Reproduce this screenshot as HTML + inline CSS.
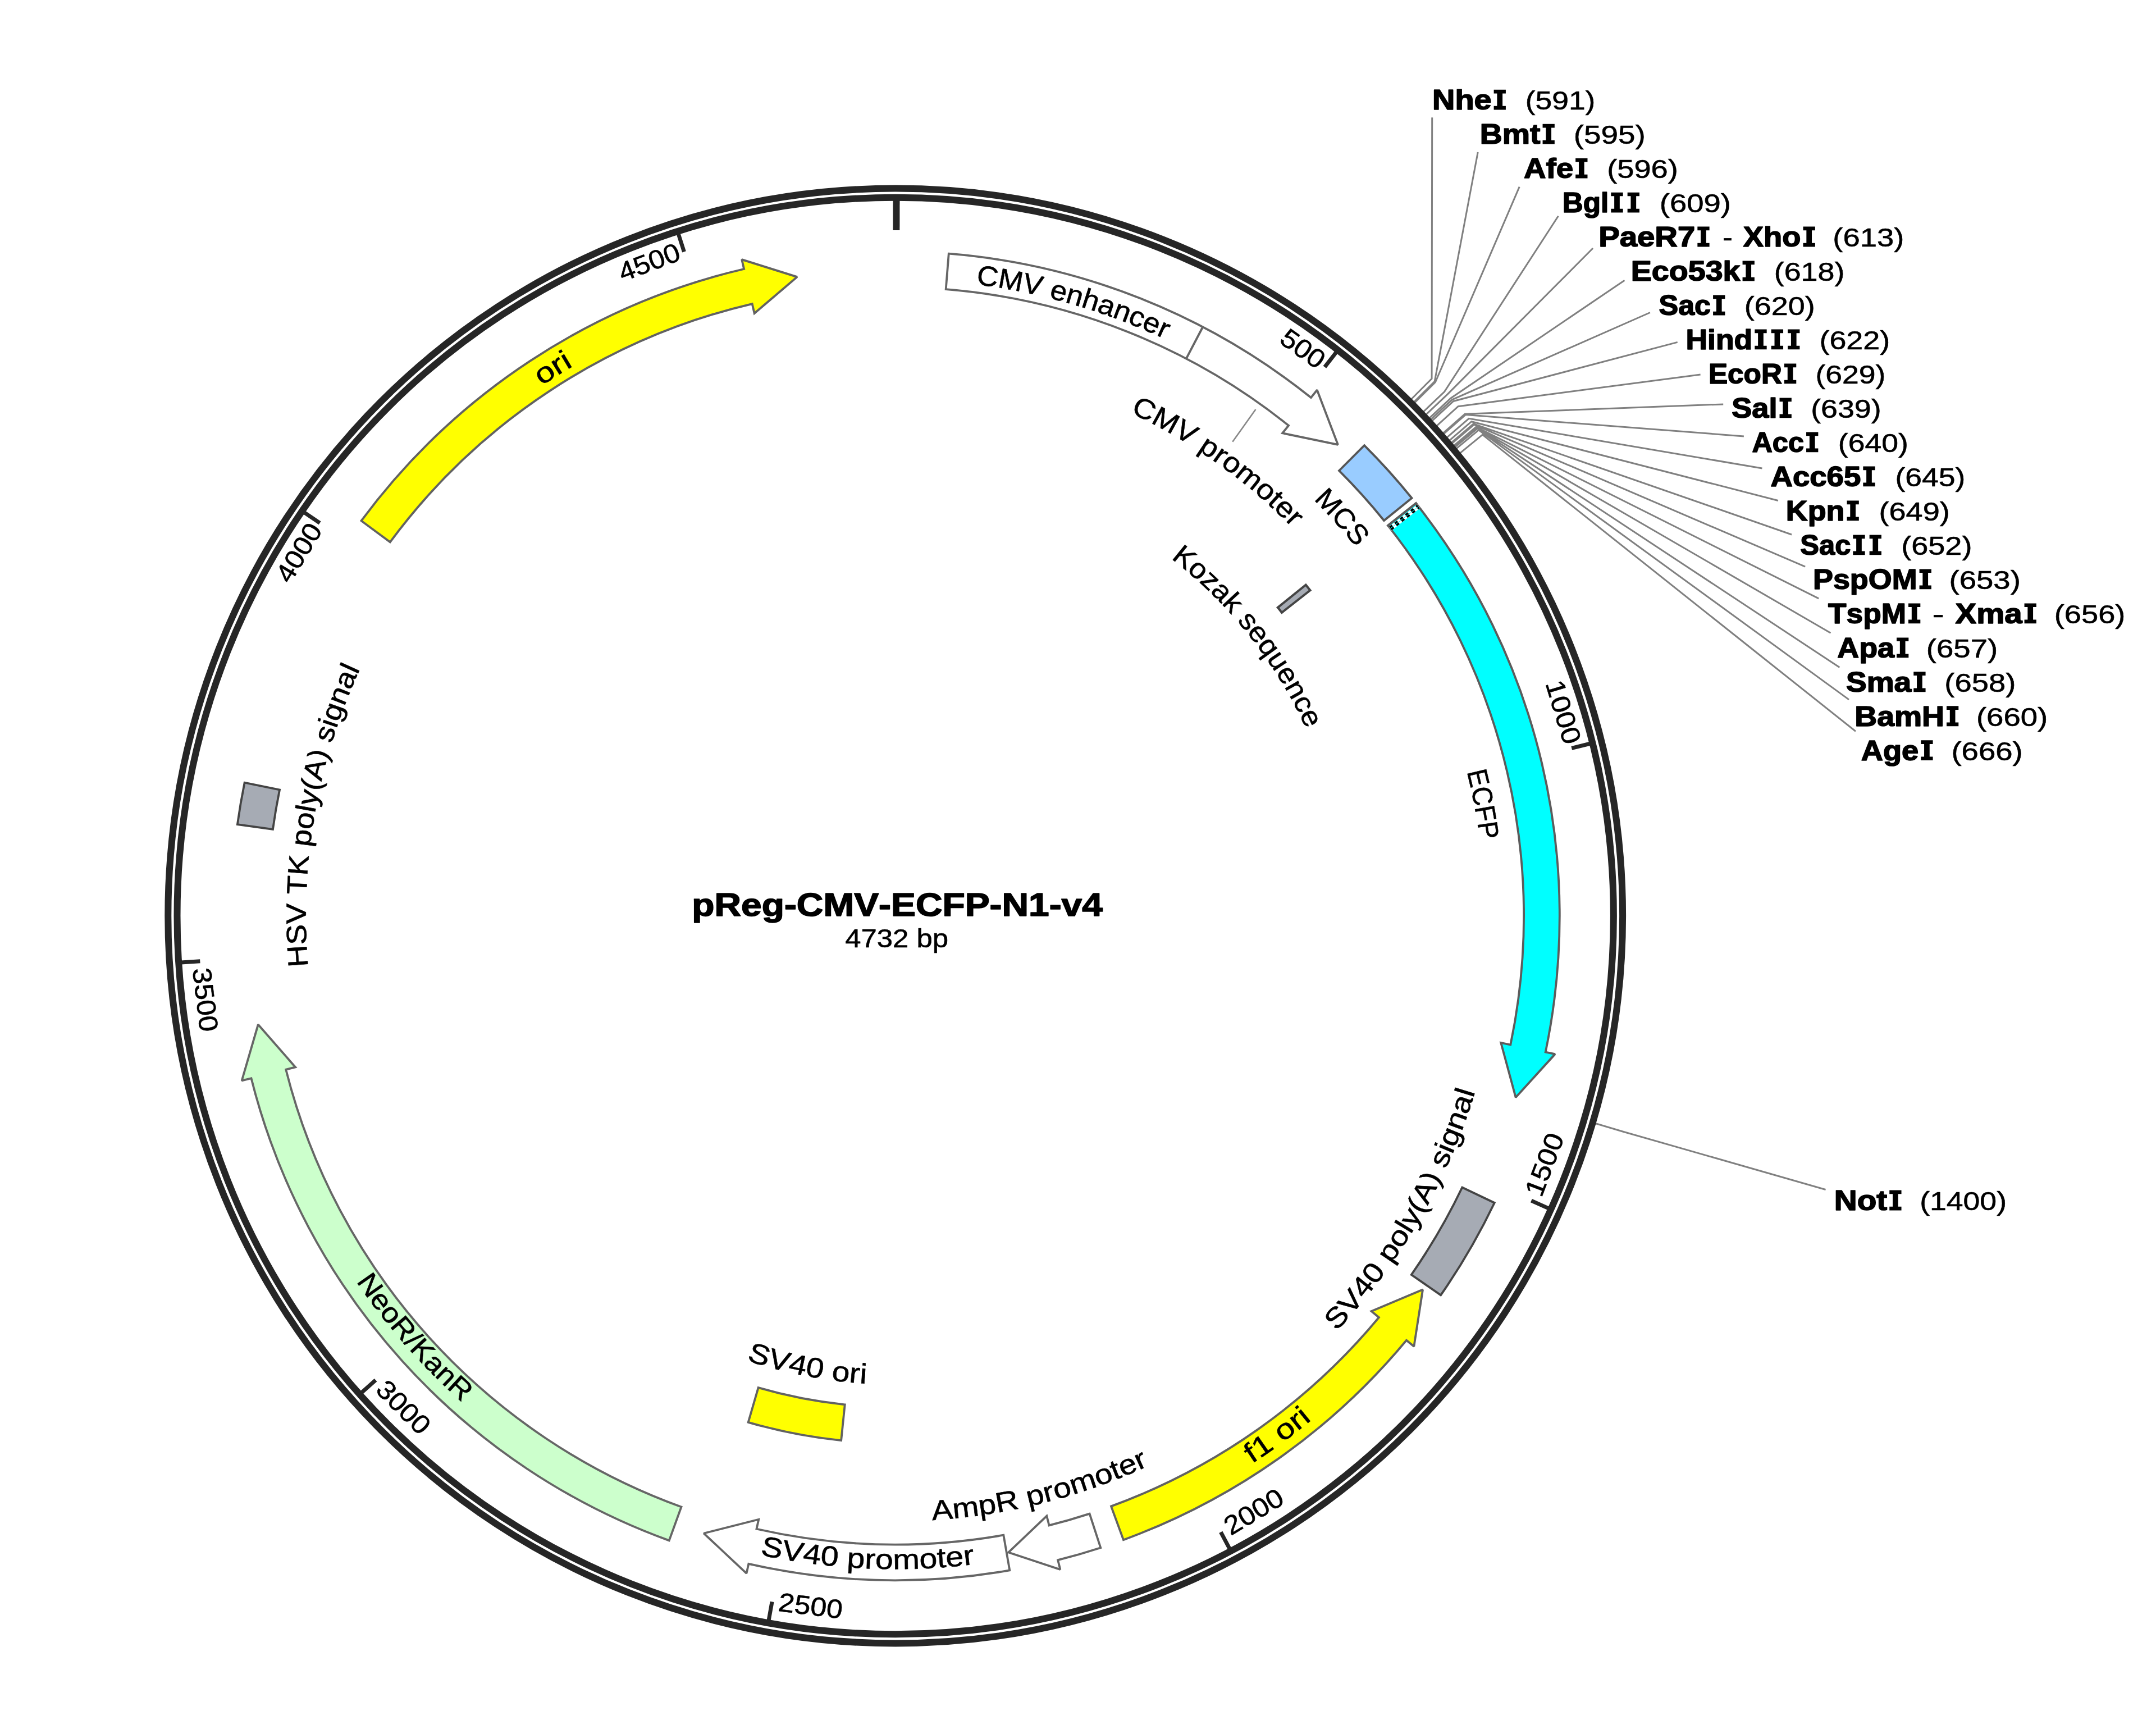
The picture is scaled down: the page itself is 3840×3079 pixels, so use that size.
<!DOCTYPE html>
<html><head><meta charset="utf-8"><title>pReg-CMV-ECFP-N1-v4</title>
<style>
html,body{margin:0;padding:0;background:#fff;}
body{width:3840px;height:3079px;overflow:hidden;}
svg{display:block;}
text{font-family:"Liberation Sans",sans-serif;font-kerning:none;stroke:#000;stroke-width:0.6px;stroke-linejoin:round;}
text[font-weight=bold]{stroke-width:1.6px;}
</style></head><body>
<svg xmlns="http://www.w3.org/2000/svg" width="3840" height="3079" viewBox="0 0 3840 3079">
<rect width="3840" height="3079" fill="#ffffff"/>
<path d="M2510.5,713.98 L2550.07,674.36 L2550.7,209.3 M2515.36,718.86 L2555.14,679.44 L2632.2,271 M2516.57,720.08 L2556.4,680.72 L2706.2,332.7 M2532.16,736.13 L2572.66,697.46 L2775.4,384.7 M2536.89,741.12 L2577.61,702.67 L2837.1,442 M2542.78,747.4 L2583.75,709.22 L2893.5,499.2 M2545.13,749.92 L2586.19,711.85 L2939,556.5 M2547.46,752.44 L2588.63,714.48 L2987.7,609.4 M2555.59,761.34 L2597.11,723.76 L3028.6,667 M2567.05,774.17 L2609.06,737.15 L3069.2,719.9 M2568.19,775.46 L2610.25,738.5 L3105.9,776.9 M2573.84,781.95 L2616.15,745.26 L3138.5,834 M2578.34,787.16 L2620.84,750.7 L3167,891.5 M2581.69,791.08 L2624.34,754.79 L3191.1,952 M2582.81,792.39 L2625.5,756.16 L3215.2,1009.2 M2586.14,796.34 L2628.98,760.27 L3239.3,1065.9 M2587.25,797.65 L2630.14,761.65 L3260.5,1127.2 M2588.35,798.97 L2631.29,763.02 L3276.4,1188.4 M2590.56,801.61 L2633.59,765.78 L3293.1,1245.9 M2597.14,809.57 L2640.45,774.08 L3305,1302.3 M2837.27,1999.28 L2890.96,2015.19 L3251.6,2118.5" fill="none" stroke="#808080" stroke-width="3.0" stroke-linejoin="miter"/>
<circle cx="1594.7" cy="1631.0" r="1295.4" fill="none" stroke="#262626" stroke-width="12"/>
<circle cx="1594.7" cy="1631.0" r="1279.2" fill="none" stroke="#262626" stroke-width="12"/>
<path d="M1596.49,352 L1596.4,410" stroke="#262626" stroke-width="12"/>
<path d="M2382.81,623.67 L2359.4,653.6 M2836.13,1323.27 L2799.24,1332.41 M2762.06,2153.59 L2727.38,2138.07 M2192.09,2761.92 L2174.34,2728.32 M1368.33,2889.81 L1375.06,2852.41 M640.74,2482.94 L669.08,2457.63 M318.41,1714.16 L356.33,1711.69 M538.26,910.05 L569.65,931.47 M1206.9,412.21 L1218.43,448.42" stroke="#262626" stroke-width="7"/>
<path d="M643.53,927.43 A1183.1,1183.1 0 0 1 1325.15,479.01 L1321.19,462.07 L1419.77,493.12 L1343.63,557.98 L1339.67,541.04 A1119.4,1119.4 0 0 0 694.75,965.31 Z" fill="#ffff00" stroke="#626262" stroke-width="3.8" stroke-linejoin="miter" stroke-miterlimit="2"/>
<path d="M1689.79,451.73 A1183.1,1183.1 0 0 1 2334.92,708.07 L2345.81,694.5 L2382.93,791.91 L2284.18,771.34 L2295.07,757.76 A1119.4,1119.4 0 0 0 1684.67,515.22 Z" fill="#ffffff" stroke="#666666" stroke-width="3.8" stroke-linejoin="miter" stroke-miterlimit="2"/>
<path d="M2112.79,638.71 L2142.28,582.25" stroke="#666666" stroke-width="3.8"/>
<path d="M2429.96,793.11 A1183.1,1183.1 0 0 1 2514.53,886.93 L2465.01,926.99 A1119.4,1119.4 0 0 0 2384.99,838.22 Z" fill="#99ccff" stroke="#555555" stroke-width="3.8" stroke-linejoin="miter" stroke-miterlimit="2"/>
<path d="M2522.02,896.28 A1183.1,1183.1 0 0 1 2752.67,1873.56 L2769.7,1877.13 L2699.62,1954.31 L2673.29,1856.94 L2690.32,1860.5 A1119.4,1119.4 0 0 0 2472.09,935.84 Z" fill="#00ffff" stroke="#5c5c5c" stroke-width="3.8" stroke-linejoin="miter" stroke-miterlimit="2"/>
<path d="M2475.91,941.5 L2526.86,901.63" stroke="#ffffff" stroke-width="8"/>
<path d="M2476.3,941.19 L2526.47,901.94" stroke="#000000" stroke-width="8" stroke-dasharray="6 6"/>
<path d="M2476.3,941.19 L2526.47,901.94" stroke="#00ffff" stroke-width="1"/>
<path d="M2470.6,937.02 L2523.51,895.1" stroke="#5c5c5c" stroke-width="3.8"/>
<path d="M2661.75,2142.01 A1183.1,1183.1 0 0 1 2566.08,2306.38 L2513.78,2270.02 A1119.4,1119.4 0 0 0 2604.3,2114.5 Z" fill="#a6abb4" stroke="#444444" stroke-width="3.8" stroke-linejoin="miter" stroke-miterlimit="2"/>
<path d="M2000.9,2742.18 A1183.1,1183.1 0 0 0 2504.98,2386.72 L2518.37,2397.83 L2534.05,2296.59 L2442.58,2334.92 L2455.97,2346.03 A1119.4,1119.4 0 0 1 1979.03,2682.36 Z" fill="#ffff00" stroke="#626262" stroke-width="3.8" stroke-linejoin="miter" stroke-miterlimit="2"/>
<path d="M1960.3,2756.19 A1183.1,1183.1 0 0 1 1884.14,2778.15 L1888.4,2795.02 L1796.2,2764.48 L1864.3,2699.51 L1868.56,2716.38 A1119.4,1119.4 0 0 0 1940.61,2695.61 Z" fill="#ffffff" stroke="#666666" stroke-width="3.8" stroke-linejoin="miter" stroke-miterlimit="2"/>
<path d="M1798.31,2796.45 A1183.1,1183.1 0 0 1 1333.37,2784.88 L1329.53,2801.85 L1253.5,2730.53 L1351.29,2705.78 L1347.44,2722.75 A1119.4,1119.4 0 0 0 1787.35,2733.7 Z" fill="#ffffff" stroke="#666666" stroke-width="3.8" stroke-linejoin="miter" stroke-miterlimit="2"/>
<path d="M1498.17,2565.13 A939.1,939.1 0 0 1 1332.7,2532.81 L1350.61,2471.16 A874.9,874.9 0 0 0 1504.77,2501.27 Z" fill="#ffff00" stroke="#626262" stroke-width="3.8" stroke-linejoin="miter" stroke-miterlimit="2"/>
<path d="M1191.8,2743.38 A1183.1,1183.1 0 0 1 447.49,1920.21 L430.62,1924.46 L459.81,1824.38 L526.13,1900.38 L509.26,1904.63 A1119.4,1119.4 0 0 0 1213.5,2683.49 Z" fill="#ccffcc" stroke="#666666" stroke-width="3.8" stroke-linejoin="miter" stroke-miterlimit="2"/>
<path d="M422.86,1468.18 A1183.1,1183.1 0 0 1 435.64,1393.71 L498.05,1406.49 A1119.4,1119.4 0 0 0 485.95,1476.95 Z" fill="#a6abb4" stroke="#444444" stroke-width="3.8" stroke-linejoin="miter" stroke-miterlimit="2"/>
<path d="M2325.75,1041.54 A939.1,939.1 0 0 1 2333.51,1051.28 L2283,1090.92 A874.9,874.9 0 0 0 2275.78,1081.83 Z" fill="#a6abb4" stroke="#444444" stroke-width="4" stroke-linejoin="miter" stroke-miterlimit="2"/>
<path d="M2236.44,728.99 L2195.28,786.84" stroke="#888888" stroke-width="2.6"/>
<text transform="translate(1756.93 508.87) rotate(8.23) scale(1.0551 1)" text-anchor="middle" font-size="50">C</text>
<text transform="translate(1797.41 515.47) rotate(10.3) scale(1.0551 1)" text-anchor="middle" font-size="50">M</text>
<text transform="translate(1836.21 523.22) rotate(12.3) scale(1.0551 1)" text-anchor="middle" font-size="50">V</text>
<text transform="translate(1881.83 534.16) rotate(14.67) scale(1.0551 1)" text-anchor="middle" font-size="50">e</text>
<text transform="translate(1910.12 541.96) rotate(16.15) scale(1.0551 1)" text-anchor="middle" font-size="50">n</text>
<text transform="translate(1938.19 550.48) rotate(17.64) scale(1.0551 1)" text-anchor="middle" font-size="50">h</text>
<text transform="translate(1966.03 559.73) rotate(19.12) scale(1.0551 1)" text-anchor="middle" font-size="50">a</text>
<text transform="translate(1993.63 569.7) rotate(20.6) scale(1.0551 1)" text-anchor="middle" font-size="50">n</text>
<text transform="translate(2019.58 579.82) rotate(22.01) scale(1.0551 1)" text-anchor="middle" font-size="50">c</text>
<text transform="translate(2045.28 590.58) rotate(23.42) scale(1.0551 1)" text-anchor="middle" font-size="50">e</text>
<text transform="translate(2066.7 600.12) rotate(24.6) scale(1.0551 1)" text-anchor="middle" font-size="50">r</text>
<text transform="translate(2030.82 743.57) rotate(26.17) scale(1.0958 1)" text-anchor="middle" font-size="50">C</text>
<text transform="translate(2068.64 763.18) rotate(28.64) scale(1.0958 1)" text-anchor="middle" font-size="50">M</text>
<text transform="translate(2104.29 783.62) rotate(31.02) scale(1.0958 1)" text-anchor="middle" font-size="50">V</text>
<text transform="translate(2145.41 809.76) rotate(33.85) scale(1.0958 1)" text-anchor="middle" font-size="50">p</text>
<text transform="translate(2165.47 823.57) rotate(35.26) scale(1.0958 1)" text-anchor="middle" font-size="50">r</text>
<text transform="translate(2185.19 837.88) rotate(36.67) scale(1.0958 1)" text-anchor="middle" font-size="50">o</text>
<text transform="translate(2215.27 861.18) rotate(38.87) scale(1.0958 1)" text-anchor="middle" font-size="50">m</text>
<text transform="translate(2244.43 885.63) rotate(41.08) scale(1.0958 1)" text-anchor="middle" font-size="50">o</text>
<text transform="translate(2261.48 900.84) rotate(42.4) scale(1.0958 1)" text-anchor="middle" font-size="50">t</text>
<text transform="translate(2278.17 916.44) rotate(43.73) scale(1.0958 1)" text-anchor="middle" font-size="50">e</text>
<text transform="translate(2295.56 933.49) rotate(45.14) scale(1.0958 1)" text-anchor="middle" font-size="50">r</text>
<text transform="translate(2354.42 905.04) rotate(46.3) scale(1.0285 1)" text-anchor="middle" font-size="50">M</text>
<text transform="translate(2381.49 934.47) rotate(48.48) scale(1.0285 1)" text-anchor="middle" font-size="50">C</text>
<text transform="translate(2404.7 961.61) rotate(50.43) scale(1.0285 1)" text-anchor="middle" font-size="50">S</text>
<text transform="translate(2099.27 1005.3) rotate(38.88) scale(1.0599 1)" text-anchor="middle" font-size="50">K</text>
<text transform="translate(2124.08 1026.15) rotate(41.19) scale(1.0599 1)" text-anchor="middle" font-size="50">o</text>
<text transform="translate(2144.82 1044.94) rotate(43.19) scale(1.0599 1)" text-anchor="middle" font-size="50">z</text>
<text transform="translate(2164.88 1064.44) rotate(45.18) scale(1.0599 1)" text-anchor="middle" font-size="50">a</text>
<text transform="translate(2184.26 1084.64) rotate(47.18) scale(1.0599 1)" text-anchor="middle" font-size="50">k</text>
<text transform="translate(2211.49 1115.58) rotate(50.12) scale(1.0599 1)" text-anchor="middle" font-size="50">s</text>
<text transform="translate(2229.06 1137.36) rotate(52.11) scale(1.0599 1)" text-anchor="middle" font-size="50">e</text>
<text transform="translate(2246.73 1160.95) rotate(54.21) scale(1.0599 1)" text-anchor="middle" font-size="50">q</text>
<text transform="translate(2263.52 1185.17) rotate(56.31) scale(1.0599 1)" text-anchor="middle" font-size="50">u</text>
<text transform="translate(2279.42 1209.99) rotate(58.41) scale(1.0599 1)" text-anchor="middle" font-size="50">e</text>
<text transform="translate(2294.39 1235.37) rotate(60.51) scale(1.0599 1)" text-anchor="middle" font-size="50">n</text>
<text transform="translate(2307.74 1259.97) rotate(62.51) scale(1.0599 1)" text-anchor="middle" font-size="50">c</text>
<text transform="translate(2320.23 1285.01) rotate(64.5) scale(1.0599 1)" text-anchor="middle" font-size="50">e</text>
<text transform="translate(2616.3 1389.31) rotate(76.69) scale(0.9320 1)" text-anchor="middle" font-size="50">E</text>
<text transform="translate(2623.26 1420.91) rotate(78.46) scale(0.9320 1)" text-anchor="middle" font-size="50">C</text>
<text transform="translate(2629.03 1451.43) rotate(80.15) scale(0.9320 1)" text-anchor="middle" font-size="50">F</text>
<text transform="translate(2633.7 1480.83) rotate(81.78) scale(0.9320 1)" text-anchor="middle" font-size="50">P</text>
<text transform="translate(2393.27 2356.92) rotate(-47.73) scale(1.1330 1)" text-anchor="middle" font-size="50">S</text>
<text transform="translate(2418.19 2328.52) rotate(-49.73) scale(1.1330 1)" text-anchor="middle" font-size="50">V</text>
<text transform="translate(2440.15 2301.73) rotate(-51.57) scale(1.1330 1)" text-anchor="middle" font-size="50">4</text>
<text transform="translate(2459.37 2276.77) rotate(-53.25) scale(1.1330 1)" text-anchor="middle" font-size="50">0</text>
<text transform="translate(2486.81 2238.3) rotate(-55.75) scale(1.1330 1)" text-anchor="middle" font-size="50">p</text>
<text transform="translate(2504.15 2212) rotate(-57.43) scale(1.1330 1)" text-anchor="middle" font-size="50">o</text>
<text transform="translate(2515.83 2193.3) rotate(-58.6) scale(1.1330 1)" text-anchor="middle" font-size="50">l</text>
<text transform="translate(2526.33 2175.74) rotate(-59.68) scale(1.1330 1)" text-anchor="middle" font-size="50">y</text>
<text transform="translate(2538.01 2155.25) rotate(-60.94) scale(1.1330 1)" text-anchor="middle" font-size="50">(</text>
<text transform="translate(2551.45 2130.31) rotate(-62.44) scale(1.1330 1)" text-anchor="middle" font-size="50">A</text>
<text transform="translate(2564.22 2105.03) rotate(-63.94) scale(1.1330 1)" text-anchor="middle" font-size="50">)</text>
<text transform="translate(2580.85 2069.38) rotate(-66.03) scale(1.1330 1)" text-anchor="middle" font-size="50">s</text>
<text transform="translate(2588.98 2050.61) rotate(-67.12) scale(1.1330 1)" text-anchor="middle" font-size="50">i</text>
<text transform="translate(2597.35 2030.22) rotate(-68.29) scale(1.1330 1)" text-anchor="middle" font-size="50">g</text>
<text transform="translate(2608.57 2000.78) rotate(-69.96) scale(1.1330 1)" text-anchor="middle" font-size="50">n</text>
<text transform="translate(2618.93 1971.02) rotate(-71.63) scale(1.1330 1)" text-anchor="middle" font-size="50">a</text>
<text transform="translate(2625.67 1950.03) rotate(-72.81) scale(1.1330 1)" text-anchor="middle" font-size="50">l</text>
<text transform="translate(2236.67 2602.21) rotate(-33.46) scale(1.1965 1)" text-anchor="middle" font-size="50">f</text>
<text transform="translate(2257.33 2588.23) rotate(-34.69) scale(1.1965 1)" text-anchor="middle" font-size="50">1</text>
<text transform="translate(2297.73 2558.96) rotate(-37.15) scale(1.1965 1)" text-anchor="middle" font-size="50">o</text>
<text transform="translate(2318.74 2542.66) rotate(-38.46) scale(1.1965 1)" text-anchor="middle" font-size="50">r</text>
<text transform="translate(2331.67 2532.24) rotate(-39.27) scale(1.1965 1)" text-anchor="middle" font-size="50">i</text>
<text transform="translate(1679.36 2705.87) rotate(-4.5) scale(1.1330 1)" text-anchor="middle" font-size="50">A</text>
<text transform="translate(1721.63 2701.7) rotate(-6.76) scale(1.1330 1)" text-anchor="middle" font-size="50">m</text>
<text transform="translate(1760.61 2696.36) rotate(-8.85) scale(1.1330 1)" text-anchor="middle" font-size="50">p</text>
<text transform="translate(1796.29 2690.19) rotate(-10.78) scale(1.1330 1)" text-anchor="middle" font-size="50">R</text>
<text transform="translate(1847.07 2679.25) rotate(-13.54) scale(1.1330 1)" text-anchor="middle" font-size="50">p</text>
<text transform="translate(1871.48 2673.07) rotate(-14.87) scale(1.1330 1)" text-anchor="middle" font-size="50">r</text>
<text transform="translate(1895.74 2666.32) rotate(-16.21) scale(1.1330 1)" text-anchor="middle" font-size="50">o</text>
<text transform="translate(1933.31 2654.65) rotate(-18.3) scale(1.1330 1)" text-anchor="middle" font-size="50">m</text>
<text transform="translate(1970.44 2641.61) rotate(-20.39) scale(1.1330 1)" text-anchor="middle" font-size="50">o</text>
<text transform="translate(1992.49 2633.14) rotate(-21.65) scale(1.1330 1)" text-anchor="middle" font-size="50">t</text>
<text transform="translate(2014.34 2624.18) rotate(-22.91) scale(1.1330 1)" text-anchor="middle" font-size="50">e</text>
<text transform="translate(2037.43 2614.11) rotate(-24.24) scale(1.1330 1)" text-anchor="middle" font-size="50">r</text>
<text transform="translate(1372.28 2772.74) rotate(11.02) scale(1.1451 1)" text-anchor="middle" font-size="50">S</text>
<text transform="translate(1409.87 2779.42) rotate(9.14) scale(1.1451 1)" text-anchor="middle" font-size="50">V</text>
<text transform="translate(1444.52 2784.46) rotate(7.42) scale(1.1451 1)" text-anchor="middle" font-size="50">4</text>
<text transform="translate(1476.15 2788.14) rotate(5.85) scale(1.1451 1)" text-anchor="middle" font-size="50">0</text>
<text transform="translate(1523.74 2792.03) rotate(3.5) scale(1.1451 1)" text-anchor="middle" font-size="50">p</text>
<text transform="translate(1549.16 2793.31) rotate(2.24) scale(1.1451 1)" text-anchor="middle" font-size="50">r</text>
<text transform="translate(1574.6 2794.03) rotate(0.99) scale(1.1451 1)" text-anchor="middle" font-size="50">o</text>
<text transform="translate(1614.37 2794.03) rotate(-0.97) scale(1.1451 1)" text-anchor="middle" font-size="50">m</text>
<text transform="translate(1654.11 2792.68) rotate(-2.93) scale(1.1451 1)" text-anchor="middle" font-size="50">o</text>
<text transform="translate(1677.94 2791.22) rotate(-4.1) scale(1.1451 1)" text-anchor="middle" font-size="50">t</text>
<text transform="translate(1701.73 2789.26) rotate(-5.28) scale(1.1451 1)" text-anchor="middle" font-size="50">e</text>
<text transform="translate(1727.05 2786.65) rotate(-6.53) scale(1.1451 1)" text-anchor="middle" font-size="50">r</text>
<text transform="translate(1347.52 2428.26) rotate(17.23) scale(1.1381 1)" text-anchor="middle" font-size="50">S</text>
<text transform="translate(1384.02 2438.67) rotate(14.62) scale(1.1381 1)" text-anchor="middle" font-size="50">V</text>
<text transform="translate(1417.86 2446.75) rotate(12.23) scale(1.1381 1)" text-anchor="middle" font-size="50">4</text>
<text transform="translate(1448.91 2452.87) rotate(10.06) scale(1.1381 1)" text-anchor="middle" font-size="50">0</text>
<text transform="translate(1495.85 2459.83) rotate(6.8) scale(1.1381 1)" text-anchor="middle" font-size="50">o</text>
<text transform="translate(1521.02 2462.44) rotate(5.06) scale(1.1381 1)" text-anchor="middle" font-size="50">r</text>
<text transform="translate(1536.76 2463.69) rotate(3.98) scale(1.1381 1)" text-anchor="middle" font-size="50">i</text>
<text transform="translate(645.54 2298.21) rotate(54.89) scale(1.0757 1)" text-anchor="middle" font-size="50">N</text>
<text transform="translate(665.73 2326.03) rotate(53.2) scale(1.0757 1)" text-anchor="middle" font-size="50">e</text>
<text transform="translate(683.95 2349.75) rotate(51.72) scale(1.0757 1)" text-anchor="middle" font-size="50">o</text>
<text transform="translate(705.65 2376.42) rotate(50.02) scale(1.0757 1)" text-anchor="middle" font-size="50">R</text>
<text transform="translate(723.16 2396.82) rotate(48.69) scale(1.0757 1)" text-anchor="middle" font-size="50">/</text>
<text transform="translate(740.14 2415.73) rotate(47.44) scale(1.0757 1)" text-anchor="middle" font-size="50">K</text>
<text transform="translate(762.73 2439.64) rotate(45.81) scale(1.0757 1)" text-anchor="middle" font-size="50">a</text>
<text transform="translate(783.85 2460.82) rotate(44.34) scale(1.0757 1)" text-anchor="middle" font-size="50">n</text>
<text transform="translate(808.79 2484.47) rotate(42.64) scale(1.0757 1)" text-anchor="middle" font-size="50">R</text>
<text transform="translate(547.28 1701.65) rotate(266.14) scale(1.0944 1)" text-anchor="middle" font-size="50">H</text>
<text transform="translate(545.41 1663.69) rotate(268.22) scale(1.0944 1)" text-anchor="middle" font-size="50">S</text>
<text transform="translate(544.91 1627.2) rotate(270.21) scale(1.0944 1)" text-anchor="middle" font-size="50">V</text>
<text transform="translate(546.29 1577.06) rotate(272.95) scale(1.0944 1)" text-anchor="middle" font-size="50">T</text>
<text transform="translate(548.66 1542.18) rotate(274.85) scale(1.0944 1)" text-anchor="middle" font-size="50">K</text>
<text transform="translate(553.9 1493.8) rotate(277.51) scale(1.0944 1)" text-anchor="middle" font-size="50">p</text>
<text transform="translate(558.32 1463.69) rotate(279.17) scale(1.0944 1)" text-anchor="middle" font-size="50">o</text>
<text transform="translate(561.93 1442.7) rotate(280.33) scale(1.0944 1)" text-anchor="middle" font-size="50">l</text>
<text transform="translate(565.65 1423.29) rotate(281.41) scale(1.0944 1)" text-anchor="middle" font-size="50">y</text>
<text transform="translate(570.4 1401) rotate(282.66) scale(1.0944 1)" text-anchor="middle" font-size="50">(</text>
<text transform="translate(576.75 1374.39) rotate(284.15) scale(1.0944 1)" text-anchor="middle" font-size="50">A</text>
<text transform="translate(583.78 1347.95) rotate(285.64) scale(1.0944 1)" text-anchor="middle" font-size="50">)</text>
<text transform="translate(594.68 1311.55) rotate(287.72) scale(1.0944 1)" text-anchor="middle" font-size="50">s</text>
<text transform="translate(600.87 1292.79) rotate(288.79) scale(1.0944 1)" text-anchor="middle" font-size="50">i</text>
<text transform="translate(607.94 1272.7) rotate(289.96) scale(1.0944 1)" text-anchor="middle" font-size="50">g</text>
<text transform="translate(618.74 1244.25) rotate(291.62) scale(1.0944 1)" text-anchor="middle" font-size="50">n</text>
<text transform="translate(630.36 1216.12) rotate(293.28) scale(1.0944 1)" text-anchor="middle" font-size="50">a</text>
<text transform="translate(638.97 1196.65) rotate(294.44) scale(1.0944 1)" text-anchor="middle" font-size="50">l</text>
<text transform="translate(978.74 677.92) rotate(327.13) scale(1.2024 1)" text-anchor="middle" font-size="50">o</text>
<text transform="translate(1001.35 663.68) rotate(328.48) scale(1.2024 1)" text-anchor="middle" font-size="50">r</text>
<text transform="translate(1015.64 655.06) rotate(329.32) scale(1.2024 1)" text-anchor="middle" font-size="50">i</text>
<text transform="translate(2320.72 620.84) rotate(35.71) scale(1.0863 1)" x="-39.32" y="16.2" font-size="47.1" fill="#000">500</text>
<text transform="translate(2784.84 1268.92) rotate(73.08) scale(1.1096 1)" x="-53.26" y="16.2" font-size="47.1" fill="#000">1000</text>
<text transform="translate(2751.11 2073) rotate(-69.08) scale(1.1096 1)" x="-53.26" y="16.2" font-size="47.1" fill="#000">1500</text>
<text transform="translate(2233.12 2691.69) rotate(-31.04) scale(1.0962 1)" x="-52.65" y="16.2" font-size="47.1" fill="#000">2000</text>
<text transform="translate(1443.93 2859.78) rotate(7) scale(1.0962 1)" x="-52.65" y="16.2" font-size="47.1" fill="#000">2500</text>
<text transform="translate(718.78 2505.87) rotate(45.03) scale(1.0900 1)" x="-52.37" y="16.2" font-size="47.1" fill="#000">3000</text>
<text transform="translate(365.74 1780.31) rotate(83.07) scale(1.0900 1)" x="-52.37" y="16.2" font-size="47.1" fill="#000">3500</text>
<text transform="translate(531.88 984.5) rotate(-58.69) scale(1.0823 1)" x="-52.01" y="16.2" font-size="47.1" fill="#000">4000</text>
<text transform="translate(1156 466.92) rotate(-20.65) scale(1.0823 1)" x="-52.01" y="16.2" font-size="47.1" fill="#000">4500</text>
<text transform="scale(1.1314 1)" x="1089.22" y="1630.8" font-size="58.2" font-weight="bold" fill="#000">pReg-CMV-ECFP-N1-v4</text>
<text transform="scale(1.1024 1)" x="1365.53" y="1687.3" font-size="46.1" fill="#000">4732 bp</text>
<g transform="scale(1.1104 1)"><text x="2297.45" y="195.5" font-size="50.3" font-weight="bold" fill="#000">Nhe</text><path d="M2396.08 159.7 H2415.27 V166.4 H2410.04 V188.8 H2415.27 V195.5 H2396.08 V188.8 H2401.31 V166.4 H2396.08 Z" fill="#000"/></g>
<text transform="scale(1.1344 1)" x="2394.83" y="195.5" font-size="47.1" fill="#000">(591)</text>
<g transform="scale(1.1011 1)"><text x="2393.83" y="256.48" font-size="50.3" font-weight="bold" fill="#000">Bmt</text><path d="M2495.27 220.68 H2514.62 V227.38 H2509.35 V249.78 H2514.62 V256.48 H2495.27 V249.78 H2500.54 V227.38 H2495.27 Z" fill="#000"/></g>
<text transform="scale(1.1641 1)" x="2407.64" y="256.48" font-size="47.1" fill="#000">(595)</text>
<g transform="scale(1.0875 1)"><text x="2495.64" y="317.46" font-size="50.3" font-weight="bold" fill="#000">Afe</text><path d="M2580.38 281.66 H2599.98 V288.36 H2594.64 V310.76 H2599.98 V317.46 H2580.38 V310.76 H2585.72 V288.36 H2580.38 Z" fill="#000"/></g>
<text transform="scale(1.1516 1)" x="2485.44" y="317.46" font-size="47.1" fill="#000">(596)</text>
<g transform="scale(1.0180 1)"><text x="2733.64" y="378.44" font-size="50.3" font-weight="bold" fill="#000">Bgl</text><path d="M2818.59 342.64 H2839.53 V349.34 H2833.83 V371.74 H2839.53 V378.44 H2818.59 V371.74 H2824.3 V349.34 H2818.59 Z" fill="#000"/><path d="M2847.4 342.64 H2868.34 V349.34 H2862.63 V371.74 H2868.34 V378.44 H2847.4 V371.74 H2853.1 V349.34 H2847.4 Z" fill="#000"/></g>
<text transform="scale(1.1555 1)" x="2558" y="378.44" font-size="47.1" fill="#000">(609)</text>
<g transform="scale(1.1187 1)"><text x="2545.15" y="439.42" font-size="50.3" font-weight="bold" fill="#000">PaeR7</text><path d="M2702.53 403.62 H2721.57 V410.32 H2716.38 V432.72 H2721.57 V439.42 H2702.53 V432.72 H2707.71 V410.32 H2702.53 Z" fill="#000"/></g>
<text transform="scale(1.1479 1)" x="2672.82" y="439.42" font-size="47.1" fill="#000">-</text>
<g transform="scale(1.0807 1)"><text x="2873.02" y="439.42" font-size="50.3" font-weight="bold" fill="#000">Xho</text><path d="M2971.73 403.62 H2991.45 V410.32 H2986.07 V432.72 H2991.45 V439.42 H2971.73 V432.72 H2977.1 V410.32 H2971.73 Z" fill="#000"/></g>
<text transform="scale(1.1555 1)" x="2824.98" y="439.42" font-size="47.1" fill="#000">(613)</text>
<g transform="scale(1.1064 1)"><text x="2625.32" y="500.4" font-size="50.3" font-weight="bold" fill="#000">Eco53k</text><path d="M2805.11 464.6 H2824.36 V471.3 H2819.12 V493.7 H2824.36 V500.4 H2805.11 V493.7 H2810.35 V471.3 H2805.11 Z" fill="#000"/></g>
<text transform="scale(1.1430 1)" x="2764.45" y="500.4" font-size="47.1" fill="#000">(618)</text>
<g transform="scale(1.0346 1)"><text x="2855.69" y="561.38" font-size="50.3" font-weight="bold" fill="#000">Sac</text><path d="M2949.06 525.58 H2969.66 V532.28 H2964.05 V554.68 H2969.66 V561.38 H2949.06 V554.68 H2954.67 V532.28 H2949.06 Z" fill="#000"/></g>
<text transform="scale(1.1440 1)" x="2715.8" y="561.38" font-size="47.1" fill="#000">(620)</text>
<g transform="scale(1.0626 1)"><text x="2825.66" y="622.36" font-size="50.3" font-weight="bold" fill="#000">Hind</text><path d="M2941.19 586.56 H2961.29 V593.26 H2955.8 V615.66 H2961.29 V622.36 H2941.19 V615.66 H2946.67 V593.26 H2941.19 Z" fill="#000"/><path d="M2968.84 586.56 H2988.94 V593.26 H2983.45 V615.66 H2988.94 V622.36 H2968.84 V615.66 H2974.33 V593.26 H2968.84 Z" fill="#000"/><path d="M2996.49 586.56 H3016.59 V593.26 H3011.11 V615.66 H3016.59 V622.36 H2996.49 V615.66 H3001.98 V593.26 H2996.49 Z" fill="#000"/></g>
<text transform="scale(1.1440 1)" x="2832.58" y="622.36" font-size="47.1" fill="#000">(622)</text>
<g transform="scale(1.0191 1)"><text x="2985.91" y="683.34" font-size="50.3" font-weight="bold" fill="#000">EcoR</text><path d="M3118.41 647.54 H3139.31 V654.24 H3133.62 V676.64 H3139.31 V683.34 H3118.41 V676.64 H3124.1 V654.24 H3118.41 Z" fill="#000"/></g>
<text transform="scale(1.1363 1)" x="2845.6" y="683.34" font-size="47.1" fill="#000">(629)</text>
<g transform="scale(1.0760 1)"><text x="2866.43" y="744.32" font-size="50.3" font-weight="bold" fill="#000">Sal</text><path d="M2945.65 708.52 H2965.46 V715.22 H2960.06 V737.62 H2965.46 V744.32 H2945.65 V737.62 H2951.05 V715.22 H2945.65 Z" fill="#000"/></g>
<text transform="scale(1.1411 1)" x="2826.34" y="744.32" font-size="47.1" fill="#000">(639)</text>
<g transform="scale(1.0042 1)"><text x="3107.35" y="805.3" font-size="50.3" font-weight="bold" fill="#000">Acc</text><path d="M3203.6 769.5 H3224.82 V776.2 H3219.04 V798.6 H3224.82 V805.3 H3203.6 V798.6 H3209.38 V776.2 H3203.6 Z" fill="#000"/></g>
<text transform="scale(1.1363 1)" x="2881.15" y="805.3" font-size="47.1" fill="#000">(640)</text>
<g transform="scale(1.0852 1)"><text x="2905.9" y="866.28" font-size="50.3" font-weight="bold" fill="#000">Acc65</text><path d="M3057.81 830.48 H3077.44 V837.18 H3072.09 V859.58 H3077.44 V866.28 H3057.81 V859.58 H3063.15 V837.18 H3057.81 Z" fill="#000"/></g>
<text transform="scale(1.1363 1)" x="2970.57" y="866.28" font-size="47.1" fill="#000">(645)</text>
<g transform="scale(1.0707 1)"><text x="2970.77" y="927.26" font-size="50.3" font-weight="bold" fill="#000">Kpn</text><path d="M3072.28 891.46 H3092.19 V898.16 H3086.77 V920.56 H3092.19 V927.26 H3072.28 V920.56 H3077.71 V898.16 H3072.28 Z" fill="#000"/></g>
<text transform="scale(1.1478 1)" x="2915.62" y="927.26" font-size="47.1" fill="#000">(649)</text>
<g transform="scale(1.0061 1)"><text x="3186.84" y="988.24" font-size="50.3" font-weight="bold" fill="#000">Sac</text><path d="M3280.32 952.44 H3301.49 V959.14 H3295.73 V981.54 H3301.49 V988.24 H3280.32 V981.54 H3286.09 V959.14 H3280.32 Z" fill="#000"/><path d="M3309.45 952.44 H3330.62 V959.14 H3324.85 V981.54 H3330.62 V988.24 H3309.45 V981.54 H3315.21 V959.14 H3309.45 Z" fill="#000"/></g>
<text transform="scale(1.1478 1)" x="2950.21" y="988.24" font-size="47.1" fill="#000">(652)</text>
<g transform="scale(1.0711 1)"><text x="3014.64" y="1049.22" font-size="50.3" font-weight="bold" fill="#000">PspOM</text><path d="M3191.65 1013.42 H3211.53 V1020.12 H3206.12 V1042.52 H3211.53 V1049.22 H3191.65 V1042.52 H3197.06 V1020.12 H3191.65 Z" fill="#000"/></g>
<text transform="scale(1.1574 1)" x="2999.48" y="1049.22" font-size="47.1" fill="#000">(653)</text>
<g transform="scale(1.0576 1)"><text x="3078.79" y="1110.2" font-size="50.3" font-weight="bold" fill="#000">TspM</text><path d="M3213.89 1074.4 H3234.04 V1081.1 H3228.55 V1103.5 H3234.04 V1110.2 H3213.89 V1103.5 H3219.38 V1081.1 H3213.89 Z" fill="#000"/></g>
<text transform="scale(1.3566 1)" x="2536.91" y="1110.2" font-size="47.1" fill="#000">-</text>
<g transform="scale(1.1198 1)"><text x="3110.01" y="1110.2" font-size="50.3" font-weight="bold" fill="#000">Xma</text><path d="M3219.83 1074.4 H3238.87 V1081.1 H3233.68 V1103.5 H3238.87 V1110.2 H3219.83 V1103.5 H3225.02 V1081.1 H3219.83 Z" fill="#000"/></g>
<text transform="scale(1.1516 1)" x="3177.15" y="1110.2" font-size="47.1" fill="#000">(656)</text>
<g transform="scale(1.0706 1)"><text x="3056.5" y="1171.18" font-size="50.3" font-weight="bold" fill="#000">Apa</text><path d="M3155.27 1135.38 H3175.17 V1142.08 H3169.75 V1164.48 H3175.17 V1171.18 H3155.27 V1164.48 H3160.69 V1142.08 H3155.27 Z" fill="#000"/></g>
<text transform="scale(1.1584 1)" x="2961.69" y="1171.18" font-size="47.1" fill="#000">(657)</text>
<g transform="scale(1.0953 1)"><text x="3001.81" y="1232.16" font-size="50.3" font-weight="bold" fill="#000">Sma</text><path d="M3111.71 1196.36 H3131.17 V1203.06 H3125.87 V1225.46 H3131.17 V1232.16 H3111.71 V1225.46 H3117.01 V1203.06 H3111.71 Z" fill="#000"/></g>
<text transform="scale(1.1545 1)" x="2999.87" y="1232.16" font-size="47.1" fill="#000">(658)</text>
<g transform="scale(1.0987 1)"><text x="3006.55" y="1293.14" font-size="50.3" font-weight="bold" fill="#000">BamH</text><path d="M3155.54 1257.34 H3174.93 V1264.04 H3169.65 V1286.44 H3174.93 V1293.14 H3155.54 V1286.44 H3160.82 V1264.04 H3155.54 Z" fill="#000"/></g>
<text transform="scale(1.1584 1)" x="3038.6" y="1293.14" font-size="47.1" fill="#000">(660)</text>
<g transform="scale(1.0780 1)"><text x="3074.97" y="1354.12" font-size="50.3" font-weight="bold" fill="#000">Age</text><path d="M3173.71 1318.32 H3193.48 V1325.02 H3188.09 V1347.42 H3193.48 V1354.12 H3173.71 V1347.42 H3179.09 V1325.02 H3173.71 Z" fill="#000"/></g>
<text transform="scale(1.1584 1)" x="3000.19" y="1354.12" font-size="47.1" fill="#000">(666)</text>
<g transform="scale(1.1273 1)"><text x="2897.86" y="2155.4" font-size="50.3" font-weight="bold" fill="#000">Not</text><path d="M2985.21 2119.6 H3004.13 V2126.3 H2998.97 V2148.7 H3004.13 V2155.4 H2985.21 V2148.7 H2990.37 V2126.3 H2985.21 Z" fill="#000"/></g>
<text transform="scale(1.1381 1)" x="3004.24" y="2155.4" font-size="47.1" fill="#000">(1400)</text>
</svg>
</body></html>
